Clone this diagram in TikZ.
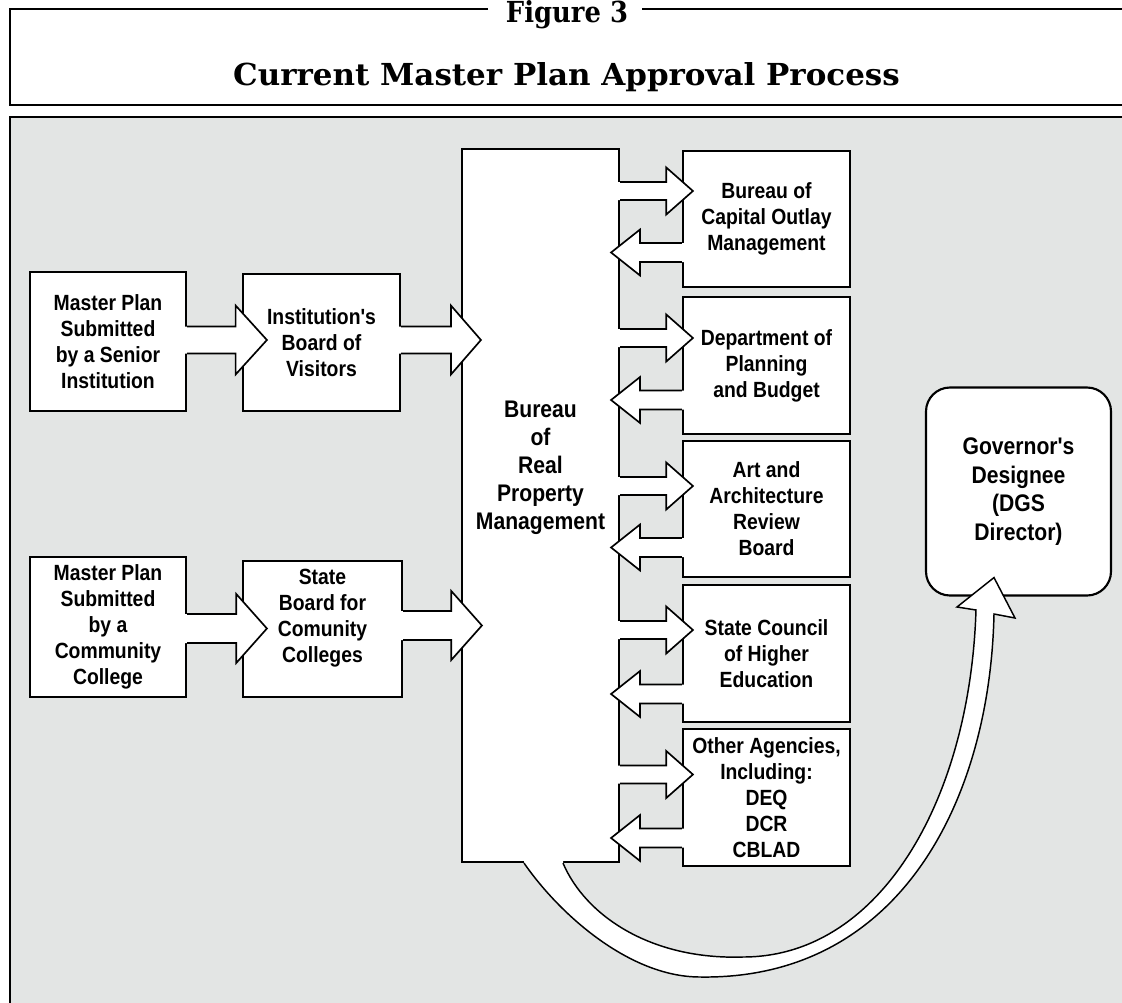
\documentclass[tikz,border=0pt]{standalone}
\usepackage{fontspec}
\usepackage{graphicx}
\usetikzlibrary{calc}
\newfontfamily\narr[FakeStretch=0.88]{Liberation Sans}
\newfontfamily\ttlfont{DejaVu Serif}
\newcommand\bxfont{\narr\bfseries\fontsize{16.5}{19.5}\selectfont}
\newcommand\lgfont{\narr\bfseries\fontsize{18}{21}\selectfont}
\newcommand\gvfont{\narr\bfseries\fontsize{18}{21.4}\selectfont}
\definecolor{bggray}{RGB}{227,229,228}
\tikzset{
 box/.style={draw=black, line width=1.6pt, fill=white, inner sep=0pt, align=center, font=\bxfont},
 lbl/.style={align=center, inner sep=0pt},
 arr/.style={draw=black, line width=1.25pt, line join=miter, miter limit=20},
 curv/.style={draw=black, line width=1.1pt, line join=miter, miter limit=20},
 frameline/.style={line width=2.1pt},
}
% block arrow: #1 from anchor, #2 to anchor, #3 tip offset (px, along x), #4 centre y (px),
% #5 shaft half width (px), #6 head half width (px), #7 head length (pt)
\newcommand\blk[7]{%
  \coordinate (yy) at (0,#4);
  \coordinate (s0) at (#1 |- yy);
  \coordinate (tp) at ($(#2 |- yy)+(#3,0)$);
  \coordinate (hb) at ($(tp)!#7!(s0)$);
  \coordinate (sx) at ($(s0)!-1.6pt!(tp)$);
  \fill[white] ($(sx)+(0,-#5)$) -- ($(hb)+(0,-#5)$) -- ($(hb)+(0,-#6)$) -- (tp)
     -- ($(hb)+(0,#6)$) -- ($(hb)+(0,#5)$) -- ($(sx)+(0,#5)$) -- cycle;
  \draw[arr] ($(s0)+(0,-#5)$) -- ($(hb)+(0,-#5)$) -- ($(hb)+(0,-#6)$) -- (tp)
     -- ($(hb)+(0,#6)$) -- ($(hb)+(0,#5)$) -- ($(s0)+(0,#5)$);
}
\begin{document}
\begin{tikzpicture}[x=0.75pt,y=-0.75pt]
\useasboundingbox (0,0) rectangle (1122,1003);
% gray panel
\fill[bggray] (10,117) rectangle (1130,1010);
\draw[frameline] (1130,117) -- (10,117) -- (10,1010);
% title frame
\draw[frameline] (488,9) -- (10,9) -- (10,105) -- (1130,105);
\draw[frameline] (642,9) -- (1130,9);
\node[anchor=base, inner sep=0pt] (fig) at (567,22.5)
  {\resizebox{91.5pt}{16.5pt}{\ttlfont\bfseries Figure 3}};
\node[anchor=base, inner sep=0pt] (title) at (566.5,85)
  {\resizebox{500pt}{17.25pt}{\ttlfont\bfseries Current Master Plan Approval Process}};

% boxes
\node[box, minimum width=117pt, minimum height=104.25pt] (ms) at (108,341.5)
  {Master Plan\\Submitted\\by a Senior\\Institution};
\node[box, minimum width=117.75pt, minimum height=102.75pt] (ibv) at (321.5,342.5)
  {Institution's\\Board of\\Visitors};
\node[box, minimum width=117pt, minimum height=105pt] (mc) at (108,627)
  {Master Plan\\Submitted\\by a\\Community\\College};
\node[box, minimum width=119.25pt, minimum height=102pt,
  label={[lbl, font=\bxfont, yshift=8pt]center:{State\\Board for\\Comunity\\Colleges}}] (sb) at (322.5,629) {};
\node[box, minimum width=117.75pt, minimum height=534.75pt,
  label={[lbl, font=\lgfont, yshift=28pt]center:{Bureau\\of\\Real\\Property\\Management}}] (brpm) at (540.5,505.5) {};

\node[box, minimum width=125.25pt, minimum height=102pt] (a1) at (766.5,219)
  {Bureau of\\Capital Outlay\\Management};
\node[box, minimum width=125.25pt, minimum height=102.75pt] (a2) at (766.5,365.5)
  {Department of\\Planning\\and Budget};
\node[box, minimum width=125.25pt, minimum height=102pt] (a3) at (766.5,509)
  {Art and\\Architecture\\Review\\Board};
\node[box, minimum width=125.25pt, minimum height=102.75pt] (a4) at (766.5,653.5)
  {State Council\\of Higher\\Education};
\node[box, minimum width=125.25pt, minimum height=102.75pt] (a5) at (766.5,797.5)
  {Other Agencies,\\Including:\\DEQ\\DCR\\CBLAD};

\node[box, rounded corners=18pt, font=\gvfont, minimum width=138.75pt, minimum height=156pt] (gov) at (1018.5,491.5)
  {Governor's\\Designee\\(DGS\\Director)};

% left-side block arrows
\blk{ms.east}{ibv.west}{25}{340}{13.5}{34.5}{23.5pt}
\blk{ibv.east}{brpm.west}{20}{340}{13.5}{34.5}{22.5pt}
\blk{mc.east}{sb.west}{25}{628.5}{14.5}{34.5}{23pt}
\blk{sb.east}{brpm.west}{21}{625.5}{14.5}{34.5}{23pt}

% arrows to the agencies
\blk{brpm.east}{a1.west}{11}{191}{9}{23.5}{20pt}
\blk{brpm.east}{a2.west}{11}{338}{9}{23.5}{20pt}
\blk{brpm.east}{a3.west}{11}{486}{9}{23.5}{20pt}
\blk{brpm.east}{a4.west}{11}{630}{9}{23.5}{20pt}
\blk{brpm.east}{a5.west}{11}{774.5}{9}{23.5}{20pt}
% arrows back from the agencies
\blk{a1.west}{brpm.east}{-9}{252.5}{9.5}{23}{21.75pt}
\blk{a2.west}{brpm.east}{-9}{400}{9.5}{23}{21.75pt}
\blk{a3.west}{brpm.east}{-9}{547.5}{9.5}{23}{21.75pt}
\blk{a4.west}{brpm.east}{-9}{694}{9.5}{23}{21.75pt}
\blk{a5.west}{brpm.east}{-9}{838}{9.5}{23}{21.75pt}

% curved arrow from the bureau to the Governor's designee
\coordinate (c0) at ($(brpm.south)+(-16.5,0)$);
\coordinate (c1) at ($(brpm.south)+(22.5,0)$);
\coordinate (ctip) at ($(gov.south)+(-24.5,-19)$);
\fill[white] ($(c0)+(0,-5)$) -- (c0) .. controls (560,915) and (630,977) .. (700,977)
  .. controls (900,980) and (990,800) .. (994,614) -- (1015,618) -- (ctip) -- (957,607) -- (976,610)
  .. controls (970,800) and (880,957) .. (743,957) .. controls (650,960) and (585,915) .. (c1)
  -- ($(c1)+(0,-5)$) -- cycle;
\draw[curv] (c0) .. controls (560,915) and (630,977) .. (700,977)
  .. controls (900,980) and (990,800) .. (994,614) -- (1015,618) -- (ctip) -- (957,607) -- (976,610)
  .. controls (970,800) and (880,957) .. (743,957) .. controls (650,960) and (585,915) .. (c1);
\end{tikzpicture}
\end{document}
